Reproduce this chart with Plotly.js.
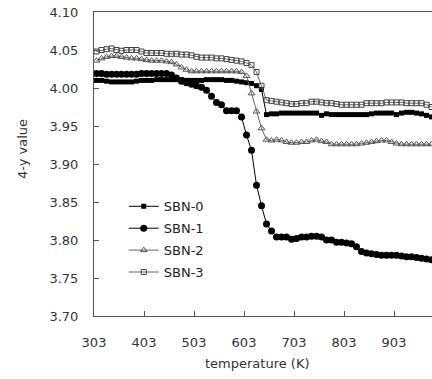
<!DOCTYPE html>
<html>
<head>
<meta charset="utf-8">
<script src="https://cdn.plot.ly/plotly-3.0.1.min.js"></script>
<style>html,body{margin:0;padding:0;background:#fff;}#chart{width:432px;height:379px;}</style>
</head>
<body>
<div id="chart"></div>
<script>
const temperature = [308,318,328,338,348,358,368,378,388,398,408,418,428,438,448,458,468,478,488,498,508,518,528,538,548,558,568,578,588,598,608,618,628,638,648,658,668,678,688,698,708,718,728,738,748,758,768,778,788,798,808,818,828,838,848,858,868,878,888,898,908,918,928,938,948,958,968,978];

const sbn0 = [4.010,4.010,4.009,4.008,4.008,4.008,4.008,4.008,4.009,4.010,4.010,4.010,4.011,4.011,4.011,4.011,4.011,4.011,4.010,4.010,4.010,4.010,4.011,4.011,4.011,4.011,4.010,4.010,4.009,4.008,4.007,4.006,4.003,3.998,3.965,3.966,3.966,3.967,3.967,3.967,3.967,3.967,3.967,3.967,3.967,3.964,3.966,3.965,3.965,3.965,3.965,3.965,3.965,3.965,3.965,3.966,3.967,3.967,3.967,3.967,3.965,3.967,3.968,3.968,3.967,3.966,3.964,3.962];

const sbn1 = [4.019,4.019,4.018,4.018,4.018,4.018,4.018,4.018,4.018,4.019,4.019,4.019,4.019,4.019,4.019,4.017,4.013,4.009,4.007,4.005,4.003,4.001,3.997,3.989,3.981,3.978,3.970,3.970,3.970,3.962,3.938,3.918,3.872,3.845,3.821,3.812,3.804,3.804,3.804,3.801,3.802,3.804,3.804,3.805,3.805,3.804,3.800,3.800,3.797,3.797,3.796,3.795,3.791,3.785,3.783,3.782,3.781,3.780,3.780,3.780,3.780,3.779,3.778,3.778,3.777,3.776,3.775,3.774];

const sbn2 = [4.036,4.039,4.041,4.042,4.042,4.041,4.040,4.039,4.039,4.038,4.037,4.036,4.036,4.036,4.035,4.034,4.031,4.027,4.024,4.022,4.022,4.022,4.022,4.022,4.022,4.022,4.022,4.022,4.022,4.021,4.016,3.993,3.969,3.947,3.932,3.931,3.932,3.931,3.929,3.928,3.928,3.929,3.929,3.931,3.932,3.930,3.929,3.926,3.926,3.926,3.926,3.926,3.926,3.927,3.928,3.929,3.930,3.931,3.931,3.929,3.927,3.926,3.926,3.926,3.926,3.926,3.926,3.926];

const sbn3 = [4.048,4.050,4.051,4.052,4.050,4.049,4.050,4.050,4.050,4.048,4.046,4.046,4.046,4.046,4.045,4.045,4.045,4.044,4.044,4.043,4.041,4.040,4.040,4.040,4.039,4.039,4.038,4.037,4.036,4.035,4.033,4.030,4.021,4.003,3.984,3.983,3.982,3.981,3.980,3.979,3.979,3.980,3.980,3.982,3.982,3.981,3.980,3.980,3.979,3.978,3.978,3.978,3.978,3.978,3.980,3.980,3.980,3.980,3.981,3.981,3.981,3.981,3.980,3.980,3.980,3.980,3.978,3.975];

const seriesNames = ['SBN-0','SBN-1','SBN-2','SBN-3'];
const yTickVals = [3.70,3.75,3.80,3.85,3.90,3.95,4.00,4.05,4.10];
const xTickVals = [303,403,503,603,703,803,903];

const font = {family: '"DejaVu Sans", sans-serif', size: 13, color: '#333'};

const traces = [
  {x: temperature, y: sbn0, name: seriesNames[0], legendgroup: 'a', mode: 'lines+markers',
   line: {color: '#000', width: 1}, marker: {symbol: 'square', size: 5, color: '#000'}},
  {x: temperature, y: sbn1, name: seriesNames[1], legendgroup: 'b', mode: 'lines+markers',
   line: {color: '#000', width: 1}, marker: {symbol: 'circle', size: 7, color: '#000'}},
  {x: temperature, y: sbn2, name: seriesNames[2], legendgroup: 'c', mode: 'lines+markers',
   line: {color: '#666', width: 1}, marker: {symbol: 'triangle-up-open', size: 6, color: '#555', line: {width: 1}}},
  {x: temperature, y: sbn3, name: seriesNames[3], legendgroup: 'd', mode: 'lines+markers',
   line: {color: '#666', width: 1}, marker: {symbol: 'square-open', size: 5, color: '#444', line: {width: 1}}}
];

const layout = {
  width: 432, height: 379,
  margin: {l: 94, r: 0, t: 12, b: 63, pad: 0},
  paper_bgcolor: '#fff', plot_bgcolor: '#fff',
  font: font,
  showlegend: true,
  legend: {x: 0.088, y: 0.41, xanchor: 'left', yanchor: 'top', bgcolor: 'rgba(0,0,0,0)',
           font: {family: '"DejaVu Sans", sans-serif', size: 13, color: '#222'}, tracegroupgap: 2},
  xaxis: {range: [303, 979], tickvals: xTickVals, ticktext: xTickVals.map(String),
          ticks: 'inside', ticklen: 5, tickcolor: '#555', showgrid: false, zeroline: false,
          showline: true, linecolor: '#555', linewidth: 1, mirror: true, ticklabelstandoff: 14,
          tickfont: font},
  yaxis: {range: [3.70, 4.10], tickvals: yTickVals, ticktext: yTickVals.map(v => v.toFixed(2)),
          ticks: 'inside', ticklen: 5, tickcolor: '#555', showgrid: false, zeroline: false,
          showline: true, linecolor: '#555', linewidth: 1, ticklabelstandoff: 12,
          tickfont: font},
  annotations: [
    {text: 'temperature (K)', xref: 'paper', yref: 'paper', x: (257 - 94) / 338, y: -(363 - 316) / 304,
     xanchor: 'center', yanchor: 'middle', showarrow: false, font: font},
    {text: '4-y value', xref: 'paper', yref: 'paper', x: (22 - 94) / 338, y: (316 - 149) / 304,
     xanchor: 'center', yanchor: 'middle', textangle: -90, showarrow: false, font: font}
  ]
};

Plotly.newPlot('chart', traces, layout, {displayModeBar: false, staticPlot: true});
</script>
</body>
</html>
